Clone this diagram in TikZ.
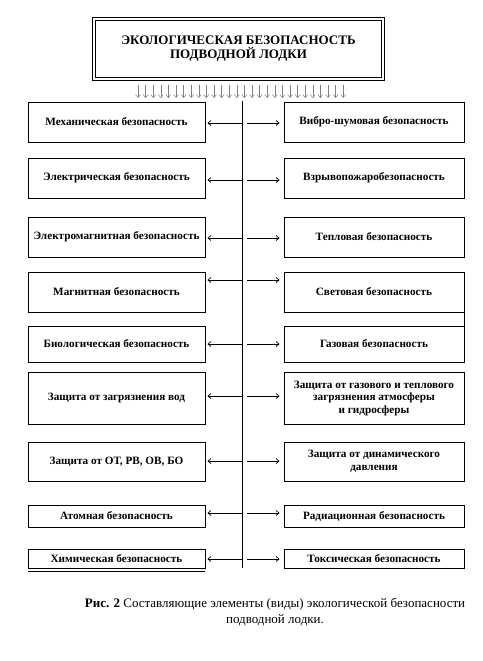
\documentclass[tikz,border=0pt]{standalone}
\usepackage{fontspec}
\setmainfont{Liberation Serif}
\usetikzlibrary{arrows.meta}

\begin{document}
\def\xg{116.5}
\def\xd{374}
\def\xaxe{242}

\begin{tikzpicture}[x=1pt,y=-1pt]
\tikzstyle{boite}=[draw,line width=0.9pt,inner sep=2pt,align=center,font=\bfseries\fontsize{11.2}{12.5}\selectfont]
\tikzstyle{gauche}=[boite,minimum width=177pt]
\tikzstyle{droite}=[boite,minimum width=180pt]
\tikzstyle{fleche}=[-{Straight Barb[length=3pt,width=5pt]},line width=0.7pt]

\useasboundingbox (0,0) rectangle (482,661);

% titre
\node[draw,double,double distance=2pt,line width=0.9pt,minimum width=289pt,minimum height=60pt,align=center,font=\bfseries\fontsize{13}{14}\selectfont] (titre) at (238.5,49) {ЭКОЛОГИЧЕСКАЯ БЕЗОПАСНОСТЬ\\ПОДВОДНОЙ ЛОДКИ};

\foreach \i in {0,...,27}
  \draw[fleche,gray,line width=0.5pt] (138+\i*7.6,85) -- ++(0,13);

% colonne gauche
\node[gauche,minimum height=40pt] (g1) at (\xg,122) {Механическая безопасность};
\node[gauche,minimum height=40pt] (g2) at (\xg,178) {Электрическая безопасность};
\node[gauche,minimum height=40pt] (g3) at (\xg,237) {Электромагнитная безопасность};
\node[gauche,minimum height=40pt] (g4) at (\xg,292) {Магнитная безопасность};
\node[gauche,minimum height=36pt] (g5) at (\xg,344) {Биологическая безопасность};
\node[gauche,minimum height=52pt] (g6) at (\xg,398) {Защита от загрязнения вод};
\node[gauche,minimum height=39pt] (g7) at (\xg,461.5) {Защита от ОТ, РВ, ОВ, БО};
\node[gauche,minimum height=22pt] (g8) at (\xg,516) {Атомная безопасность};
\node[gauche,minimum height=19pt] (g9) at (\xg,558.5) {Химическая безопасность};
\draw[line width=0.9pt] ([yshift=-3pt]g9.south west) -- ([yshift=-3pt]g9.south east);

% colonne droite
\node[droite,minimum height=40pt] (d1) at (\xd,122) {Вибро-шумовая безопасность};
\node[droite,minimum height=40pt] (d2) at (\xd,178) {Взрывопожаробезопасность};
\node[droite,minimum height=40pt] (d3) at (\xd,237) {Тепловая безопасность};
\node[droite,minimum height=40pt] (d4) at (\xd,292) {Световая безопасность};
\node[droite,minimum height=36pt] (d5) at (\xd,344) {Газовая безопасность};
\node[droite,minimum height=52pt] (d6) at (\xd,398) {Защита от газового и теплового\\загрязнения атмосферы\\и гидросферы};
\node[droite,minimum height=39pt] (d7) at (\xd,461.5) {Защита от динамического\\давления};
\node[droite,minimum height=22pt] (d8) at (\xd,516) {Радиационная безопасность};
\node[droite,minimum height=19pt] (d9) at (\xd,558.5) {Токсическая безопасность};
\draw[line width=0.9pt] (d4.south east) -- (d5.north east);

% axe central
\coordinate (haut) at (\xaxe,101);
\coordinate (bas) at (\xaxe,568);
\draw[line width=0.9pt] (haut) -- (bas);

\foreach \n/\y in {1/123,2/180,3/238,4/280,5/344,6/396,7/461,8/513,9/559}{
  \coordinate (a\n) at (\xaxe,\y);
  \draw[fleche] (a\n) -- ([xshift=2pt]g\n.east |- a\n);
  \draw[fleche] ([xshift=5pt]a\n) -- ([xshift=-4pt]d\n.west |- a\n);
}

% legende
\node[align=center,font=\fontsize{13}{16}\selectfont] (legende) at (275,612) {\textbf{Рис. 2} Составляющие элементы (виды) экологической безопасности\\подводной лодки.};

\end{tikzpicture}
\end{document}
